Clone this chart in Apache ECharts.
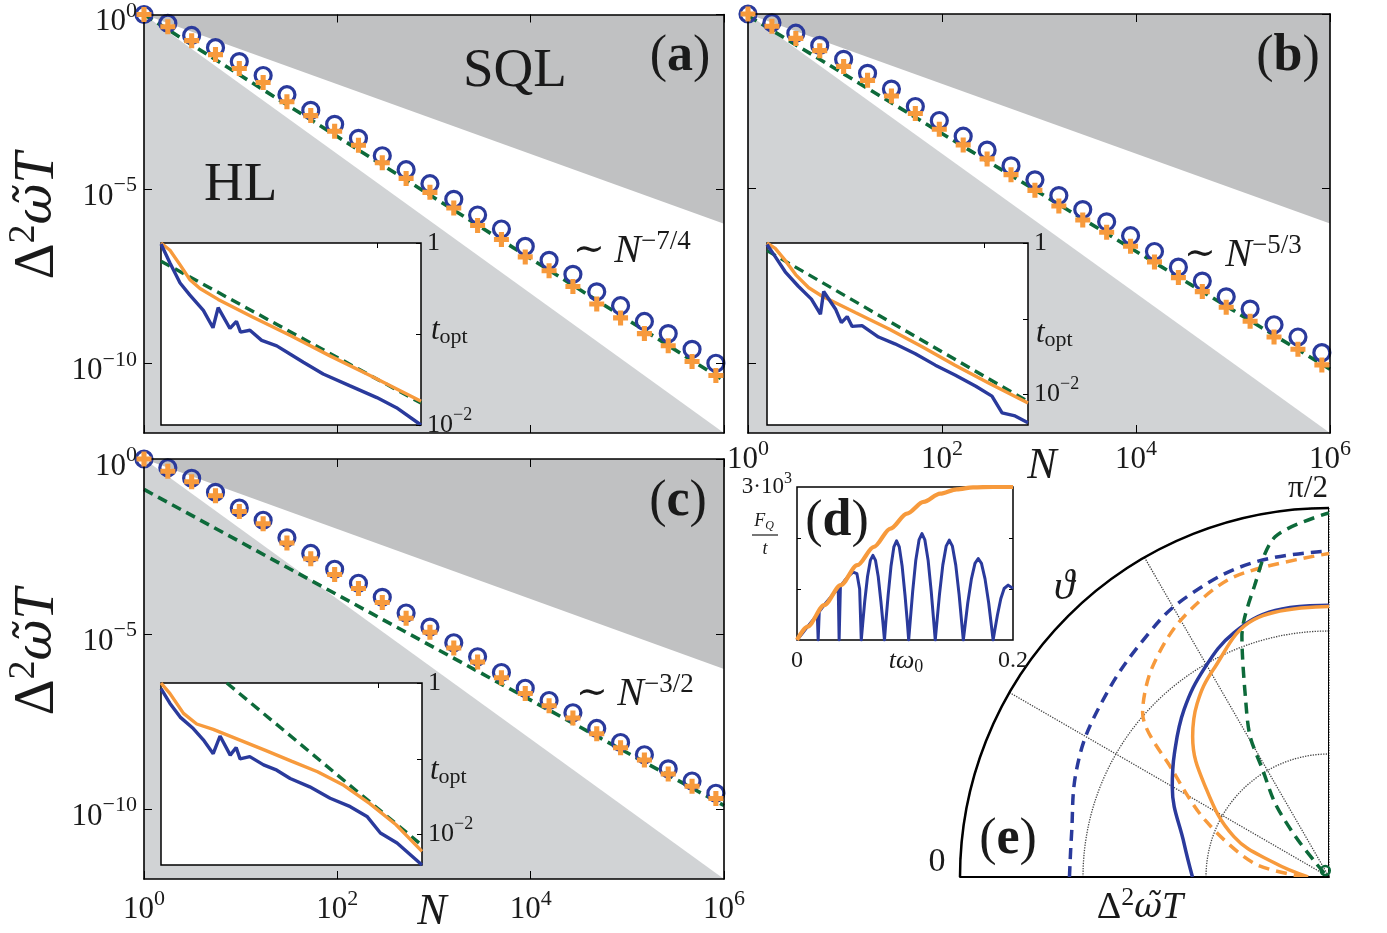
<!DOCTYPE html>
<html>
<head>
<meta charset="utf-8">
<script src="https://cdn.jsdelivr.net/npm/echarts@6.0.0/dist/echarts.min.js"></script>
<style>
html,body{margin:0;padding:0;background:#ffffff;}
#chart{width:1387px;height:933px;}
</style>
</head>
<body>
<div id="chart"></div>
<script>
// ================= DATA =================
const N_points = [1, 1.764, 3.112, 5.49, 9.68, 17.08, 30.1, 53.1, 93.8, 165.4, 291.7, 514.6, 907.8,
  1602, 2825, 4984, 8790, 15506, 27353, 48253, 85114, 150140, 264850, 467200, 824100];
const xTickVals = [1, 100, 10000, 1000000];
const yTickVals = [1, 1e-5, 1e-10];

// (a)
const aCircles = [1, 0.562, 0.251, 0.112, 0.0447, 0.0178, 5.01e-3, 1.78e-3, 7.08e-4, 2.82e-4, 8.91e-5, 3.55e-5,
  1.41e-5, 5.01e-6, 1.78e-6, 7.08e-7, 2.24e-7, 8.91e-8, 3.55e-8, 1.12e-8, 4.47e-9, 1.58e-9, 7.08e-10, 2.51e-10, 1e-10];
const aCrosses = [1, 0.447, 0.178, 7.08e-2, 2.82e-2, 1.12e-2, 3.16e-3, 1.26e-3, 4.47e-4, 1.78e-4, 5.62e-5, 2.0e-5,
  7.94e-6, 2.82e-6, 8.91e-7, 3.55e-7, 1.12e-7, 4.47e-8, 1.58e-8, 5.01e-9, 2.0e-9, 7.08e-10, 3.16e-10, 1.12e-10, 4.47e-11];
// (b)
const bCircles = [1, 0.562, 0.282, 0.126, 5.01e-2, 2.0e-2, 7.08e-3, 2.24e-3, 8.91e-4, 3.16e-4, 1.26e-4, 4.47e-5,
  1.78e-5, 6.31e-6, 2.51e-6, 1.12e-6, 4.47e-7, 1.58e-7, 5.62e-8, 2.24e-8, 7.94e-9, 3.55e-9, 1.26e-9, 5.62e-10, 2.0e-10];
const bCrosses = [1, 0.447, 0.2, 8.91e-2, 3.16e-2, 1.26e-2, 4.47e-3, 1.41e-3, 5.01e-4, 1.78e-4, 7.08e-5, 2.51e-5,
  8.91e-6, 3.16e-6, 1.26e-6, 5.62e-7, 2.24e-7, 7.94e-8, 2.82e-8, 1.12e-8, 3.98e-9, 1.58e-9, 5.62e-10, 2.51e-10, 8.91e-11];
// (c)
const cCircles = [1, 0.562, 0.282, 0.112, 3.98e-2, 1.78e-2, 5.62e-3, 2.0e-3, 7.08e-4, 2.82e-4, 1.12e-4, 3.98e-5,
  1.58e-5, 5.62e-6, 2.24e-6, 7.94e-7, 2.82e-7, 1.26e-7, 5.62e-8, 2.0e-8, 7.94e-9, 3.55e-9, 1.41e-9, 6.31e-10, 2.82e-10];
const cCrosses = [1, 0.447, 0.224, 8.91e-2, 3.16e-2, 1.41e-2, 3.98e-3, 1.41e-3, 5.01e-4, 2.0e-4, 7.94e-5, 2.82e-5,
  1.12e-5, 3.98e-6, 1.58e-6, 5.62e-7, 2.0e-7, 8.91e-8, 3.98e-8, 1.41e-8, 5.62e-9, 2.51e-9, 1.0e-9, 4.47e-10, 2.0e-10];

// scaling lines and bounds (endpoints at N=1 and N=1e6)
const lineN = [1, 1e6];
const aGreen = [1, 3.16e-11];
const bGreen = [0.891, 6.76e-11];
const cGreen = [0.135, 1.26e-10];
const sqlBound = [1, 1e-6];
const hlBound = [1, 1e-12];

// insets: t_opt vs N
const insA_orangeN = [1, 1.21, 1.50, 1.84, 2.29, 3.37, 6.92, 15.8, 36.3, 83.2, 251];
const insA_orangeT = [1, 0.832, 0.575, 0.398, 0.316, 0.240, 0.155, 0.0955, 0.0575, 0.0355, 0.0182];
const insA_greenN = [1, 251];
const insA_greenT = [0.631, 0.0174];
const insA_blueN = [1, 1.21, 1.50, 1.84, 2.46, 3.02, 3.37, 4.33, 4.97, 5.42, 6.62, 8.49, 11.7, 15.5, 20.6, 31.4, 55.6, 98.2, 149, 251];
const insA_blueT = [0.977, 0.603, 0.363, 0.269, 0.182, 0.117, 0.195, 0.115, 0.138, 0.105, 0.110, 0.0851, 0.0741, 0.0603, 0.0490, 0.0363, 0.0269, 0.0200, 0.0155, 0.0100];

const insB_orangeN = [1, 1.19, 1.47, 1.84, 2.42, 3.19, 6.55, 13.1, 26.7, 53.5, 110, 251];
const insB_orangeT = [1, 0.851, 0.589, 0.380, 0.257, 0.200, 0.120, 0.0741, 0.0427, 0.0245, 0.0141, 0.00776];
const insB_greenN = [1, 251];
const insB_greenT = [0.794, 0.00813];
const insB_blueN = [1, 1.19, 1.47, 1.94, 2.56, 3.10, 3.32, 4.26, 4.83, 5.46, 6.06, 7.48, 10.6, 15.0, 23.1, 35.3, 53.5, 83.2, 117, 145, 191, 251];
const insB_blueT = [0.955, 0.661, 0.417, 0.269, 0.182, 0.115, 0.229, 0.135, 0.0891, 0.107, 0.0794, 0.0813, 0.0575, 0.0468, 0.0347, 0.0245, 0.0182, 0.0129, 0.00955, 0.00575, 0.00525, 0.00427];

const insC_orangeN = [1, 1.21, 1.61, 2.13, 3.02, 5.25, 9.12, 15.8, 27.5, 47.9, 83.2, 145, 251];
const insC_orangeT = [1, 0.724, 0.398, 0.288, 0.245, 0.178, 0.129, 0.0933, 0.0676, 0.0447, 0.0257, 0.0135, 0.00603];
const insC_greenN = [4.03, 251];
const insC_greenT = [1, 0.00724];
const insC_blueN = [1, 1.21, 1.50, 1.98, 2.45, 3.02, 3.49, 4.33, 4.91, 5.33, 6.55, 8.77, 11.6, 15.4, 23.3, 35.9, 55.0, 78.3, 104, 148, 251];
const insC_blueT = [0.841, 0.537, 0.355, 0.251, 0.178, 0.117, 0.200, 0.112, 0.141, 0.100, 0.107, 0.0832, 0.0708, 0.0550, 0.0427, 0.0302, 0.0234, 0.0174, 0.0105, 0.00776, 0.00398];

// (d): F_Q/t vs t*omega_0
const dOrangeT = [0, 0.0098, 0.0252, 0.0405, 0.0558, 0.0712, 0.0865, 0.1018, 0.1172, 0.1325, 0.1479, 0.163, 0.1816, 0.2];
const dOrangeF = [0, 261, 685, 1076, 1467, 1826, 2185, 2478, 2707, 2870, 2954, 2993, 3000, 3000];
const dBlueT = [0, 0.005, 0.01, 0.015, 0.0188, 0.0196,
  0.0206, 0.025, 0.03, 0.035, 0.0382, 0.039,
  0.0402, 0.044, 0.048, 0.052, 0.0555, 0.058, 0.0595,
  0.0608, 0.0627, 0.0653, 0.0679, 0.0703, 0.0727, 0.0752, 0.0777, 0.0797, 0.081,
  0.0823, 0.0844, 0.0871, 0.0897, 0.0922, 0.0947, 0.0973, 0.1, 0.1021, 0.1034,
  0.1049, 0.1071, 0.1100, 0.1130, 0.1157, 0.1184, 0.1214, 0.1243, 0.1265, 0.128,
  0.1296, 0.1319, 0.135, 0.1381, 0.141, 0.1439, 0.147, 0.1501, 0.1524, 0.154,
  0.1557, 0.1581, 0.1615, 0.1648, 0.1678, 0.1708, 0.1741, 0.1775, 0.1799, 0.1816,
  0.1832, 0.1856, 0.1887, 0.1918, 0.1955, 0.2];
const dBlueF = [0, 133, 266, 400, 500, 0,
  555, 680, 808, 935, 1010, 0,
  1060, 1160, 1260, 1330, 1300, 1000, 0,
  310, 755, 1245, 1560, 1660, 1560, 1245, 755, 310, 0,
  363, 882, 1457, 1826, 1943, 1826, 1457, 882, 363, 0,
  390, 948, 1565, 1962, 2087, 1962, 1565, 948, 390, 0,
  366, 889, 1468, 1840, 1957, 1840, 1468, 889, 366, 0,
  299, 726, 1199, 1502, 1598, 1502, 1199, 726, 299, 0,
  200, 490, 810, 1010, 1076, 1010];

// (e): polar curves, [radius, angle in degrees]
const eBlueDash = [[2.11, 0], [2.12, 9], [2.23, 23], [2.33, 37.5], [2.47, 54], [2.56, 64], [2.63, 76.6], [2.65, 90]];
const eOrangeDash = [[0.2, 0], [0.62, 10.4], [1.11, 24.7], [1.54, 34.3], [2.02, 41.4], [2.22, 49.4], [2.41, 59.9], [2.56, 72.4], [2.63, 90]];
const eBlueSolid = [[1.11, 0], [1.21, 13.1], [1.47, 29.9], [1.61, 38.7], [1.80, 49.1], [1.98, 59.4], [2.13, 68.7], [2.21, 78.6], [2.21, 90]];
const eOrangeSolid = [[0.17, 0], [0.46, 14.5], [0.84, 23], [1.24, 36], [1.59, 45.8], [1.77, 52.7], [1.93, 60.8], [2.18, 73.8], [2.2, 90]];
const eGreenDash = [[0.05, 40], [0.15, 46.5], [0.43, 50.4], [0.74, 53.8], [1.02, 58.2], [1.31, 60.7], [1.57, 64.5], [2.08, 70.1], [2.44, 75.6], [2.8, 81], [2.96, 90]];
const eGreenMark = [[0.06, 60]];
const eFrameEdge = [[0, 90], [3, 90]];

// ================= STYLE =================
const SERIF = "'Liberation Serif','DejaVu Serif',serif";
const DVS = "'DejaVu Serif','Liberation Serif',serif";
const INK = '#1a1a1a';
const BLUE = '#2a3a9c', ORANGE = '#f79a3c', GREEN = '#0d6a3a';
const SQL_GRAY = '#c0c1c2', HL_GRAY = '#d1d3d5';
const PLUS = 'path://M3.3,0H6.7V3.3H10V6.7H6.7V10H3.3V6.7H0V3.3H3.3Z';

const zip = (xs, ys) => xs.map((x, i) => [x, ys[i]]);
const supMinus = e => (e < 0 ? '\u2212' + (-e) : String(e));
const pow10Label = v => '{b|10}{s|' + supMinus(Math.round(Math.log10(v))) + '}';

const richTick = {
  b: {fontFamily: SERIF, fontSize: 31, lineHeight: 44, color: INK},
  s: {fontFamily: SERIF, fontSize: 22, lineHeight: 22, verticalAlign: 'top', color: INK}
};
const richInset = {
  b: {fontFamily: SERIF, fontSize: 26, lineHeight: 38, color: INK},
  s: {fontFamily: SERIF, fontSize: 18, lineHeight: 18, verticalAlign: 'top', color: INK}
};

const grid = [], xAxis = [], yAxis = [], series = [];

function addMain(g, showX, showY, xMargin) {
  const gi = grid.length;
  grid.push(g);
  const line = {show: true, onZero: false, lineStyle: {color: '#000', width: 1.6}};
  const tickX = {show: true, inside: true, length: 8, customValues: xTickVals, lineStyle: {color: '#000', width: 1}};
  const tickY = {show: true, inside: true, length: 8, customValues: yTickVals, lineStyle: {color: '#000', width: 1}};
  const xi = xAxis.length, yi = yAxis.length;
  xAxis.push({type: 'log', logBase: 10, gridIndex: gi, min: 1, max: 1e6, position: 'bottom', z: 4,
    axisLine: line, axisTick: tickX, splitLine: {show: false},
    axisLabel: {show: showX, customValues: xTickVals, formatter: pow10Label, rich: richTick, margin: xMargin}});
  xAxis.push({type: 'log', logBase: 10, gridIndex: gi, min: 1, max: 1e6, position: 'top', z: 4,
    axisLine: line, axisTick: tickX, splitLine: {show: false}, axisLabel: {show: false}});
  yAxis.push({type: 'log', logBase: 10, gridIndex: gi, min: 1e-12, max: 1, position: 'left', z: 4,
    axisLine: line, axisTick: tickY, splitLine: {show: false},
    axisLabel: {show: showY, customValues: yTickVals, formatter: pow10Label, rich: richTick, margin: 7, padding: [15, 0, 0, 0]}});
  yAxis.push({type: 'log', logBase: 10, gridIndex: gi, min: 1e-12, max: 1, position: 'right', z: 4,
    axisLine: line, axisTick: tickY, splitLine: {show: false}, axisLabel: {show: false}});
  return {xi, yi};
}

function addInset(g, ymin) {
  const gi = grid.length;
  grid.push(Object.assign({show: true, backgroundColor: '#ffffff', borderColor: '#000', borderWidth: 1.5, z: 5}, g));
  const xi = xAxis.length, yi = yAxis.length;
  xAxis.push({type: 'log', logBase: 10, gridIndex: gi, min: 1, max: 251, position: 'top', z: 7,
    axisLine: {show: false}, splitLine: {show: false}, axisLabel: {show: false},
    axisTick: {show: true, inside: true, length: 5, customValues: [100], lineStyle: {color: '#000'}}});
  yAxis.push({type: 'log', logBase: 10, gridIndex: gi, min: ymin, max: 1, position: 'right', z: 7,
    axisLine: {show: false}, splitLine: {show: false},
    axisTick: {show: true, inside: true, length: 5, customValues: [1, 0.1, 0.01], lineStyle: {color: '#000'}},
    axisLabel: {show: true, customValues: [1, 0.01], margin: 6, rich: richInset,
      formatter: v => (v > 0.5 ? '{b|1}' : '{b|10}{s|\u22122}')}});
  return {xi, yi};
}

function lineS(ax, xs, ys, color, width, dashed, z) {
  return {type: 'line', xAxisIndex: ax.xi, yAxisIndex: ax.yi, data: zip(xs, ys), symbol: 'none', silent: true,
    lineStyle: {color: color, width: width, type: dashed ? [10, 6] : 'solid', cap: 'butt'}, z: z};
}
function areaS(ax, ys, color, origin) {
  return {type: 'line', xAxisIndex: ax.xi, yAxisIndex: ax.yi, data: zip(lineN, ys), symbol: 'none', silent: true,
    lineStyle: {width: 0, opacity: 0}, areaStyle: {color: color, opacity: 1, origin: origin}, z: 1};
}
function markers(ax, circ, cross) {
  return [
    {type: 'scatter', xAxisIndex: ax.xi, yAxisIndex: ax.yi, data: zip(N_points, circ), symbol: 'circle', symbolSize: 16,
      clip: false, silent: true, itemStyle: {color: 'rgba(255,255,255,0)', borderColor: BLUE, borderWidth: 3.2, opacity: 1}, z: 3},
    {type: 'scatter', xAxisIndex: ax.xi, yAxisIndex: ax.yi, data: zip(N_points, cross), symbol: PLUS, symbolSize: 15,
      clip: false, silent: true, itemStyle: {color: ORANGE, opacity: 1}, z: 4}
  ];
}

// ---- main panels ----
const A = addMain({left: 144, top: 14, width: 580, height: 419}, false, true, 8);
const B = addMain({left: 748, top: 14, width: 582, height: 419}, true, false, 5);
const C = addMain({left: 144, top: 459, width: 580, height: 420}, true, true, 9);

[[A, aGreen, aCircles, aCrosses], [B, bGreen, bCircles, bCrosses], [C, cGreen, cCircles, cCrosses]].forEach(p => {
  const ax = p[0];
  series.push(areaS(ax, sqlBound, SQL_GRAY, 'end'));
  series.push(areaS(ax, hlBound, HL_GRAY, 'start'));
  const m = markers(ax, p[2], p[3]);
  series.push(m[0]);
  series.push(lineS(ax, lineN, p[1], GREEN, 3.6, true, 3));
  series.push(m[1]);
});

// ---- insets ----
const IA = addInset({left: 161, top: 243, width: 260, height: 182}, 0.01);
const IB = addInset({left: 767, top: 243, width: 261, height: 182}, 0.00398);
const IC = addInset({left: 161, top: 683, width: 261, height: 182}, 0.00398);
[[IA, insA_greenN, insA_greenT, insA_orangeN, insA_orangeT, insA_blueN, insA_blueT],
 [IB, insB_greenN, insB_greenT, insB_orangeN, insB_orangeT, insB_blueN, insB_blueT],
 [IC, insC_greenN, insC_greenT, insC_orangeN, insC_orangeT, insC_blueN, insC_blueT]].forEach(p => {
  series.push(lineS(p[0], p[1], p[2], GREEN, 3.4, true, 6));
  series.push(lineS(p[0], p[3], p[4], ORANGE, 3.4, false, 6));
  series.push(lineS(p[0], p[5], p[6], BLUE, 3.4, false, 6));
});

// ---- panel (d) ----
const dGi = grid.length;
grid.push({left: 797, top: 487, width: 216, height: 153, show: true, backgroundColor: '#ffffff', borderColor: '#000', borderWidth: 1.5});
const dXi = xAxis.length, dYi = yAxis.length;
xAxis.push({type: 'value', gridIndex: dGi, min: 0, max: 0.2, position: 'bottom',
  axisLine: {show: false}, splitLine: {show: false}, axisTick: {show: false},
  axisLabel: {show: true, customValues: [0, 0.2], margin: 9, fontFamily: SERIF, fontSize: 24, color: INK,
    formatter: v => (v === 0 ? '0' : '0.2')}});
yAxis.push({type: 'value', gridIndex: dGi, min: 0, max: 3000, position: 'left',
  axisLine: {show: false}, splitLine: {show: false},
  axisTick: {show: true, inside: true, length: 4, customValues: [1000, 2000], lineStyle: {color: '#000'}},
  axisLabel: {show: true, customValues: [3000], margin: 5, formatter: () => '{b|3\u00b710}{s|3}',
    rich: {b: {fontFamily: SERIF, fontSize: 23, lineHeight: 32, color: INK},
           s: {fontFamily: SERIF, fontSize: 16, lineHeight: 16, verticalAlign: 'top', color: INK}}}});
yAxis.push({type: 'value', gridIndex: dGi, min: 0, max: 3000, position: 'right',
  axisLine: {show: false}, splitLine: {show: false}, axisLabel: {show: false},
  axisTick: {show: true, inside: true, length: 4, customValues: [1000, 2000], lineStyle: {color: '#000'}}});
series.push({type: 'line', xAxisIndex: dXi, yAxisIndex: dYi, data: zip(dBlueT, dBlueF), symbol: 'none', silent: true,
  lineStyle: {color: BLUE, width: 3, join: 'round'}, z: 3});
series.push({type: 'line', xAxisIndex: dXi, yAxisIndex: dYi, data: zip(dOrangeT, dOrangeF), symbol: 'none', silent: true,
  smooth: 0.3, smoothMonotone: 'x', lineStyle: {color: ORANGE, width: 4.2}, z: 4});

// ---- panel (e) polar ----
const dotted = {color: '#444', type: 'dotted', width: 1.3};
const polar = {center: [1329, 877], radius: 369};
const angleAxis = {type: 'value', min: 0, max: 90, interval: 30, startAngle: 180, endAngle: 90, clockwise: true,
  axisLine: {show: true, lineStyle: {color: '#000', width: 2.5}}, axisTick: {show: false}, axisLabel: {show: false},
  splitLine: {show: true, lineStyle: dotted}};
const radiusAxis = {type: 'value', min: 0, max: 3, interval: 1,
  axisLine: {show: true, lineStyle: {color: '#000', width: 2}}, axisTick: {show: false}, axisLabel: {show: false},
  splitLine: {show: true, lineStyle: dotted}};
function polarS(data, color, dashed, smooth) {
  return {type: 'line', coordinateSystem: 'polar', data: data, symbol: 'none', silent: true, smooth: smooth,
    lineStyle: {color: color, width: 3.5, type: dashed ? [11, 7] : 'solid'}, z: 3};
}
series.push({type: 'line', coordinateSystem: 'polar', data: eFrameEdge, symbol: 'none', silent: true,
  lineStyle: {color: '#000', width: 2}, z: 2});
series.push(polarS(eBlueDash, BLUE, true, 0.4));
series.push(polarS(eOrangeDash, ORANGE, true, 0.3));
series.push(polarS(eGreenDash, GREEN, true, 0.3));
series.push(polarS(eBlueSolid, BLUE, false, 0.4));
series.push(polarS(eOrangeSolid, ORANGE, false, 0.4));
series.push({type: 'scatter', coordinateSystem: 'polar', data: eGreenMark, symbol: 'circle', symbolSize: 9, silent: true,
  itemStyle: {color: 'rgba(255,255,255,0)', borderColor: GREEN, borderWidth: 2.5, opacity: 1}, z: 4});

// ================= TEXT =================
function T(x, y, text, rich, align, va, rot) {
  return {type: 'text', x: x, y: y, rotation: rot || 0, z: 30, silent: true,
    style: {text: text, rich: rich, fill: INK, align: align || 'left', verticalAlign: va || 'middle',
      textAlign: align || 'left', textVerticalAlign: va || 'middle'}};
}
const richY = {
  d: {fontFamily: SERIF, fontSize: 56, lineHeight: 66},
  s: {fontFamily: SERIF, fontSize: 38, lineHeight: 38, verticalAlign: 'top'},
  w: {fontFamily: DVS, fontSize: 50, fontStyle: 'italic', lineHeight: 66},
  t: {fontFamily: SERIF, fontSize: 56, fontStyle: 'italic', lineHeight: 66}
};
const richE = {
  d: {fontFamily: SERIF, fontSize: 38, lineHeight: 46},
  s: {fontFamily: SERIF, fontSize: 26, lineHeight: 26, verticalAlign: 'top'},
  w: {fontFamily: DVS, fontSize: 34, fontStyle: 'italic', lineHeight: 46},
  t: {fontFamily: SERIF, fontSize: 38, fontStyle: 'italic', lineHeight: 46}
};
const richBig = {a: {fontFamily: SERIF, fontSize: 55, lineHeight: 62}};
const richPanel = {
  p: {fontFamily: SERIF, fontSize: 52, lineHeight: 60},
  q: {fontFamily: SERIF, fontSize: 52, fontWeight: 'bold', lineHeight: 60}
};
const richN = {
  t: {fontFamily: SERIF, fontSize: 38, lineHeight: 46},
  n: {fontFamily: SERIF, fontSize: 40, fontStyle: 'italic', lineHeight: 46},
  s: {fontFamily: SERIF, fontSize: 27, lineHeight: 27, verticalAlign: 'top'}
};
const richAxisN = {n: {fontFamily: SERIF, fontSize: 44, fontStyle: 'italic', lineHeight: 50}};
const richTopt = {
  t: {fontFamily: SERIF, fontSize: 31, fontStyle: 'italic', lineHeight: 34},
  o: {fontFamily: SERIF, fontSize: 22, lineHeight: 22, verticalAlign: 'bottom'}
};
const richPlain = size => ({a: {fontFamily: SERIF, fontSize: size, lineHeight: size + 6}});
const richItal = size => ({a: {fontFamily: SERIF, fontSize: size, fontStyle: 'italic', lineHeight: size + 6}});
const richSmall = {
  f: {fontFamily: SERIF, fontSize: 18, fontStyle: 'italic', lineHeight: 22},
  q: {fontFamily: SERIF, fontSize: 12, fontStyle: 'italic', lineHeight: 12, verticalAlign: 'bottom'}
};
const richTw = {
  t: {fontFamily: SERIF, fontSize: 26, fontStyle: 'italic', lineHeight: 30},
  z: {fontFamily: SERIF, fontSize: 18, lineHeight: 18, verticalAlign: 'bottom'}
};
const yLabel = '{d|\u0394}{s|2}{w|\u03c9\u0303}{t|T}';

const graphic = [
  T(38, 216, yLabel, richY, 'center', 'middle', Math.PI / 2),
  T(38, 652, yLabel, richY, 'center', 'middle', Math.PI / 2),
  T(463, 72, '{a|SQL}', richBig, 'left'),
  T(204, 186, '{a|HL}', richBig, 'left'),
  T(680, 57, '{p|(}{q|a}{p|)}', richPanel, 'center'),
  T(1288, 57, '{p|(}{q|b}{p|)}', richPanel, 'center'),
  T(678, 502, '{p|(}{q|c}{p|)}', richPanel, 'center'),
  T(837, 522, '{p|(}{q|d}{p|)}', richPanel, 'center'),
  T(1008, 840, '{p|(}{q|e}{p|)}', richPanel, 'center'),
  T(573, 251, '{t|\u223c }{n|N}{s|\u22127/4}', richN, 'left'),
  T(1184, 255, '{t|\u223c }{n|N}{s|\u22125/3}', richN, 'left'),
  T(576, 694, '{t|\u223c }{n|N}{s|\u22123/2}', richN, 'left'),
  T(1042, 466, '{n|N}', richAxisN, 'center'),
  T(432, 912, '{n|N}', richAxisN, 'center'),
  T(431, 331, '{t|t}{o|opt}', richTopt, 'left'),
  T(1036, 334, '{t|t}{o|opt}', richTopt, 'left'),
  T(430, 771, '{t|t}{o|opt}', richTopt, 'left'),
  // (d) labels
  T(764, 521, '{f|F}{q|Q}', richSmall, 'center'),
  {type: 'line', z: 30, silent: true, shape: {x1: 752, y1: 535, x2: 778, y2: 535}, style: {stroke: INK, lineWidth: 1.2}},
  T(765, 549, '{f|t}', richSmall, 'center'),
  T(906, 661, '{t|t\u03c9}{z|0}', richTw, 'center'),
  // (e) labels
  T(937, 862, '{a|0}', richPlain(34), 'center'),
  T(1308, 489, '{a|\u03c0/2}', richPlain(31), 'center'),
  T(1064, 588, '{a|\u03d1}', richItal(42), 'center'),
  T(1140, 908, yLabel, richE, 'center')
];

const chart = echarts.init(document.getElementById('chart'), null, {renderer: 'canvas'});
chart.setOption({
  backgroundColor: '#ffffff',
  animation: false,
  grid: grid,
  xAxis: xAxis,
  yAxis: yAxis,
  polar: polar,
  angleAxis: angleAxis,
  radiusAxis: radiusAxis,
  series: series,
  graphic: graphic
});
</script>
</body>
</html>
